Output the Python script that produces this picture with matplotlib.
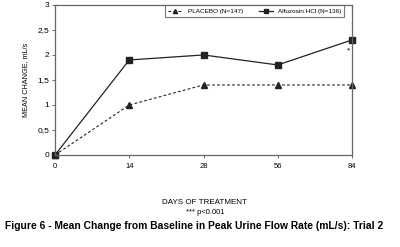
import matplotlib
matplotlib.use('Agg')
import matplotlib.pyplot as plt

plt.rcParams['font.family'] = ['Liberation Sans', 'DejaVu Sans']

# data
days = ['0', '14', '28', '56', '84']
placebo = [0, 1.0, 1.4, 1.4, 1.4]
alfuzosin = [0, 1.9, 2.0, 1.8, 2.3]
yticks = [0, 0.5, 1, 1.5, 2, 2.5, 3]
yticklabels = ['0', '0,5', '1', '1,5', '2', '2,5', '3']

fig = plt.figure(figsize=(4.0, 2.47), dpi=100)
ax = fig.add_axes([0.1375, 0.3725, 0.7425, 0.6075])

xs = range(len(days))
ax.plot(xs, placebo, ls=(0, (2.5, 2)), lw=0.8, color='#222222',
        marker='^', ms=4, label='PLACEBO (N=147)', clip_on=False)
ax.plot(xs, alfuzosin, ls='-', lw=0.9, color='#222222',
        marker='s', ms=4.5, label='Alfuzosin HCl (N=136)', clip_on=False)

# significance marker at day 84
ax.text(len(days) - 1 - 0.03, 2.08, '*', fontsize=6, ha='right', va='center')

ax.set_xlim(0, len(days) - 1)
ax.set_ylim(0, 3)
ax.set_xticks(list(xs))
ax.set_xticklabels(days, fontsize=5.5)
ax.set_yticks(yticks)
ax.set_yticklabels(yticklabels, fontsize=6)
ax.tick_params(axis='both', length=2, width=0.6, color='#555555', pad=2)
ax.tick_params(axis='x', pad=4)
for s in ax.spines.values():
    s.set_color('#666666')
    s.set_linewidth(0.9)

ax.set_ylabel('MEAN CHANGE, mL/s', fontsize=5.2, labelpad=6)

leg = ax.legend(loc='upper right', ncol=2, fontsize=4.6, frameon=True,
                fancybox=False, edgecolor='#555555', handlelength=2.2,
                markerscale=0.75, columnspacing=2.5, borderpad=0.5,
                bbox_to_anchor=(0.985, 1.02))
leg.get_frame().set_linewidth(0.8)

fig.text(0.5125, 0.182, 'DAYS OF TREATMENT', fontsize=5.8, ha='center', va='center')
fig.text(0.5125, 0.14, '*** p<0.001', fontsize=5.5, ha='center', va='center')
fig.text(0.012, 0.085, 'Figure 6 - Mean Change from Baseline in Peak Urine Flow Rate (mL/s): Trial 2',
         fontsize=7.35, fontweight='bold', ha='left', va='center')

fig.savefig('out.png', dpi=100)
